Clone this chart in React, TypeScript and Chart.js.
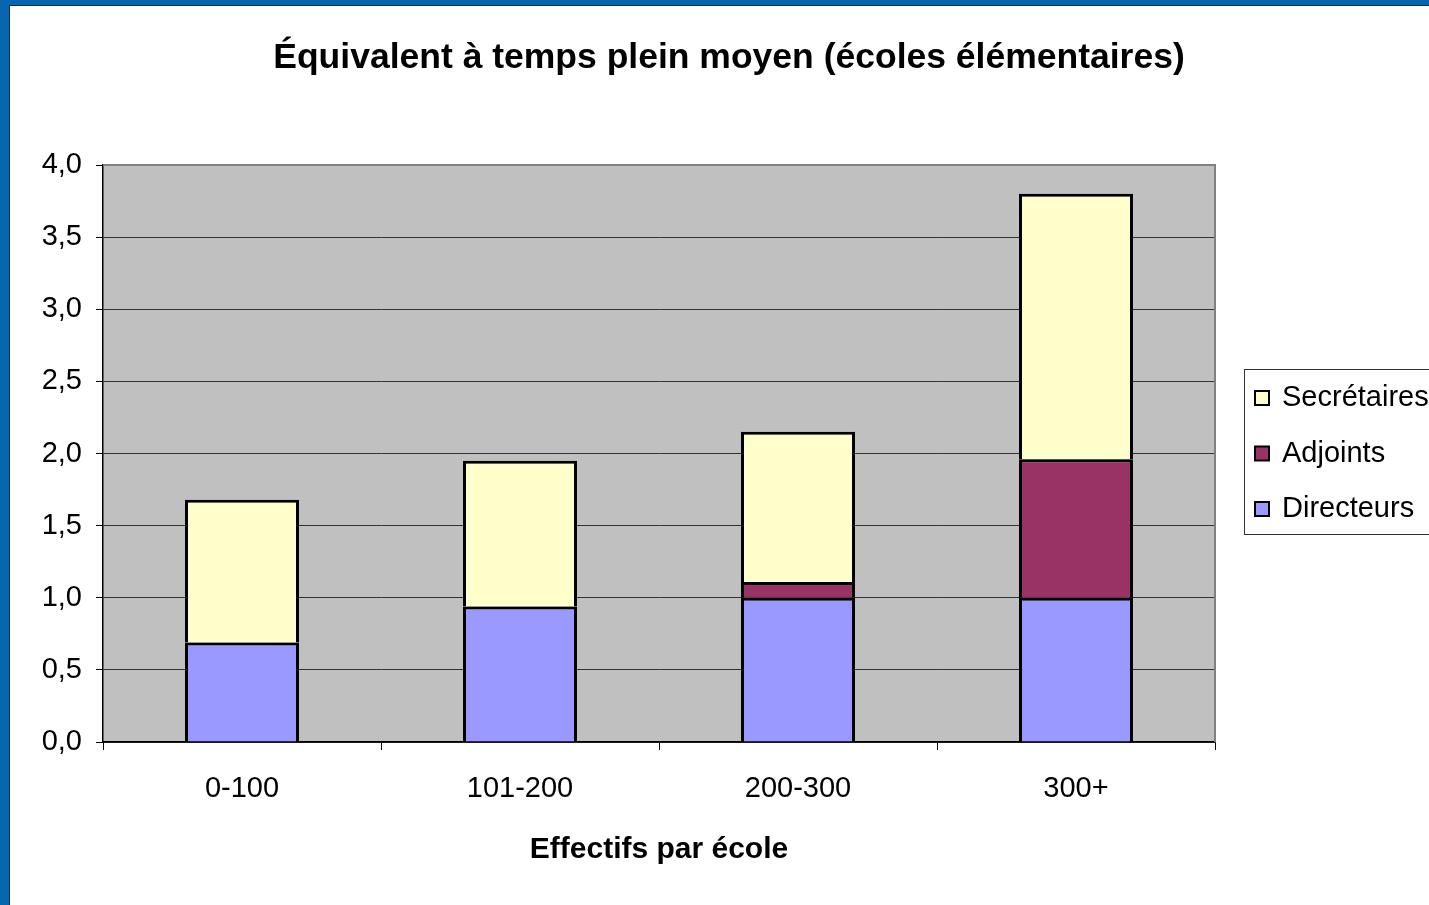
import { useEffect, useRef } from 'react';
import { Chart, registerables } from 'chart.js';

Chart.register(...registerables);

const categories = ['0-100', '101-200', '200-300', '300+'];
const directeurs = [0.69, 0.94, 1.0, 1.0];
const adjoints = [0, 0, 0.11, 0.96];
const secretaires = [0.99, 1.01, 1.04, 1.84];
const seriesLabels = ['Directeurs', 'Adjoints', 'Secrétaires'];
const seriesColors = ['#9999FF', '#993366', '#FFFFCC'];

const TITLE = 'Équivalent à temps plein moyen (écoles élémentaires)';
const X_TITLE = 'Effectifs par école';
const FONT = "'Liberation Sans', Arial, Helvetica, sans-serif";

const framePlugin = {
  id: 'frame',
  beforeDraw(chart: any) {
    const { ctx, width, height, chartArea: a } = chart;
    ctx.save();
    ctx.fillStyle = '#ffffff';
    ctx.fillRect(0, 0, width, height);
    ctx.fillStyle = '#0766ad';
    ctx.fillRect(0, 0, 9, height);
    ctx.fillRect(0, 0, width, 5);
    ctx.fillStyle = '#0c2f52';
    ctx.fillRect(9, 5, 1, height - 5);
    ctx.fillRect(9, 5, width - 9, 1);
    ctx.fillStyle = '#c0c0c0';
    ctx.fillRect(a.left, a.top, a.right - a.left, a.bottom - a.top);
    ctx.restore();
  },
  beforeDatasetsDraw(chart: any) {
    const { ctx, chartArea: a } = chart;
    ctx.save();
    ctx.strokeStyle = '#808080';
    ctx.lineWidth = 2;
    ctx.beginPath();
    ctx.moveTo(a.left, a.top);
    ctx.lineTo(a.right, a.top);
    ctx.lineTo(a.right, a.bottom);
    ctx.stroke();
    ctx.restore();
  },
};

const titlePlugin = {
  id: 'customTitle',
  afterDraw(chart: any) {
    const { ctx } = chart;
    ctx.save();
    ctx.fillStyle = '#000';
    ctx.font = `bold 35.5px ${FONT}`;
    ctx.textAlign = 'center';
    ctx.textBaseline = 'alphabetic';
    ctx.fillText(TITLE, 729, 68);
    ctx.restore();
  },
};

const legendPlugin = {
  id: 'customLegend',
  afterDraw(chart: any) {
    const { ctx } = chart;
    ctx.save();
    ctx.fillStyle = '#ffffff';
    ctx.fillRect(1244, 369, 200, 166);
    ctx.strokeStyle = '#333';
    ctx.lineWidth = 1;
    ctx.strokeRect(1244.5, 369.5, 200, 165);
    const ds = chart.data.datasets.slice().reverse();
    ctx.font = `29px ${FONT}`;
    ctx.textAlign = 'left';
    ctx.textBaseline = 'alphabetic';
    ds.forEach((d: any, i: number) => {
      const base = 406 + i * 55.5;
      ctx.fillStyle = d.backgroundColor;
      ctx.fillRect(1255, base - 15, 14, 14);
      ctx.strokeStyle = '#000';
      ctx.lineWidth = 2;
      ctx.strokeRect(1255, base - 15, 14, 14);
      ctx.fillStyle = '#000';
      ctx.fillText(d.label, 1282, base);
    });
    ctx.restore();
  },
};

export default function App() {
  const ref = useRef<HTMLCanvasElement>(null);
  useEffect(() => {
    if (!ref.current) return;
    Chart.defaults.font.family = FONT;
    const values = [directeurs, adjoints, secretaires];
    const chart = new Chart(ref.current, {
      type: 'bar',
      data: {
        labels: categories,
        datasets: values.map((v, i) => ({
          label: seriesLabels[i],
          data: v,
          backgroundColor: seriesColors[i],
          borderColor: '#000000',
          borderWidth: 3,
          barPercentage: 0.41,
          categoryPercentage: 1,
        })),
      },
      options: {
        responsive: false,
        animation: false,
        layout: { padding: { left: 10, top: 165, right: 214, bottom: 37 } },
        plugins: {
          legend: { display: false },
          title: { display: false },
          tooltip: { enabled: false },
        },
        scales: {
          x: {
            stacked: true,
            grid: {
              display: true,
              drawOnChartArea: false,
              drawTicks: true,
              tickLength: 8,
              tickColor: '#000',
              offset: true,
            },
            border: { color: '#000', width: 1.5 },
            ticks: { color: '#000', font: { size: 29 }, padding: 22 },
            title: {
              display: true,
              text: X_TITLE,
              color: '#000',
              font: { size: 30, weight: 'bold' },
              padding: 0,
            },
            afterFit(s: any) {
              s.height = 126;
            },
          },
          y: {
            stacked: true,
            min: 0,
            max: 4,
            ticks: {
              stepSize: 0.5,
              color: '#000',
              font: { size: 29 },
              padding: 14,
              callback: (v: any) => Number(v).toFixed(1).replace('.', ','),
            },
            grid: { color: '#333', tickColor: '#000', tickLength: 7 },
            border: { color: '#000', width: 1.5 },
            afterFit(s: any) {
              s.width = 93;
            },
          },
        },
      } as any,
      plugins: [framePlugin, titlePlugin, legendPlugin],
    });
    return () => chart.destroy();
  }, []);
  return (
    <div style={{ position: 'absolute', left: 0, top: 0, width: 1429, height: 905 }}>
      <canvas ref={ref} width={1429} height={905} style={{ display: 'block' }} />
    </div>
  );
}
